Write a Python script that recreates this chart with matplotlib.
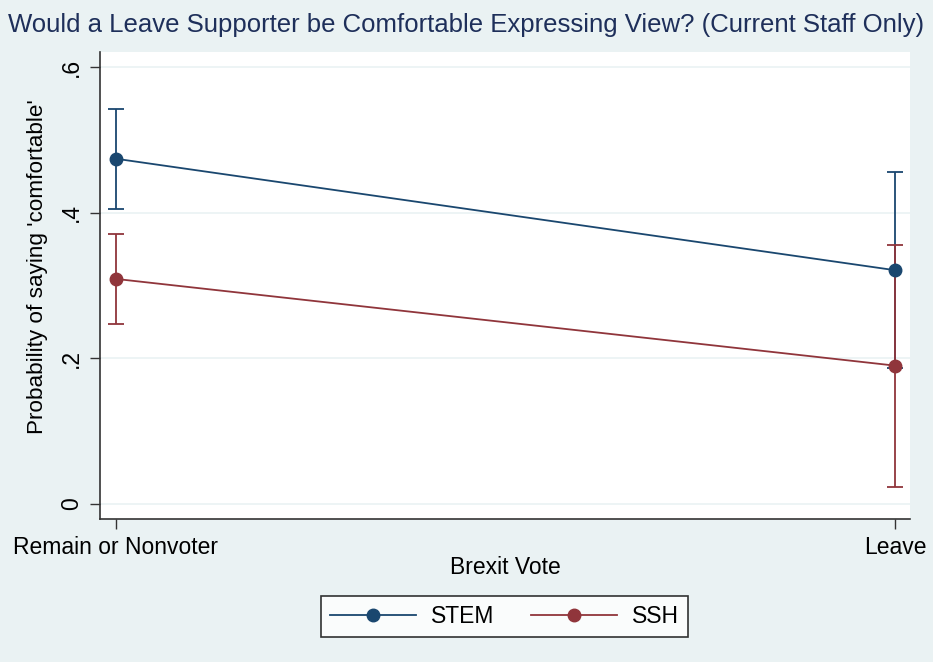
import numpy as np
import matplotlib.pyplot as plt
from matplotlib.lines import Line2D

# margins de predicción por voto y área
categorias = ['Remain or Nonvoter', 'Leave']
stem_p = [0.474, 0.321]
stem_lo = [0.405, 0.187]
stem_hi = [0.542, 0.456]
ssh_p = [0.309, 0.190]
ssh_lo = [0.247, 0.023]
ssh_hi = [0.371, 0.356]

fondo = '#EAF2F3'
azul = '#1A476F'
rojo = '#90353B'

plt.rcParams['font.family'] = ['Liberation Sans', 'DejaVu Sans']

fig = plt.figure(figsize=(9.33, 6.62), dpi=100, facecolor=fondo)
ax = fig.add_axes([0.1072, 0.216, 0.9753 - 0.1072, 0.9215 - 0.216])

x = np.arange(len(categorias))

handles = []
for p, lo, hi, col, nombre in [(stem_p, stem_lo, stem_hi, azul, 'STEM'),
                                (ssh_p, ssh_lo, ssh_hi, rojo, 'SSH')]:
    p = np.array(p)
    err = [p - np.array(lo), np.array(hi) - p]
    ax.errorbar(x, p, yerr=err, color=col, lw=1.3, marker='o', ms=9,
                capsize=5.5, capthick=1.3, elinewidth=1.3)
    handles.append(Line2D([], [], color=col, lw=1.3, marker='o', ms=9, label=nombre))

ax.set_xlim(-0.0205, 1.0193)
ax.set_ylim(-0.0206, 0.6206)
ax.set_xticks(x)
ax.set_xticklabels(categorias, fontsize=16.5)
ax.set_yticks([0, 0.2, 0.4, 0.6])
ax.set_yticklabels(['0', '.2', '.4', '.6'], fontsize=16.5, rotation=90, va='center')
ax.tick_params(axis='both', length=7, width=1, color='#333333', pad=5)

ax.grid(axis='y', color=fondo, lw=1.2)
ax.set_axisbelow(True)
for lado in ['top', 'right']:
    ax.spines[lado].set_visible(False)
for lado in ['left', 'bottom']:
    ax.spines[lado].set_color('#333333')
    ax.spines[lado].set_linewidth(1.2)

ax.set_xlabel('Brexit Vote', fontsize=16.5, labelpad=-2)
ax.set_ylabel("Probability of saying 'comfortable'", fontsize=16.2)
ax.yaxis.set_label_coords(-0.064, 0.54)

fig.text(0.5, 0.962, 'Would a Leave Supporter be Comfortable Expressing View? (Current Staff Only)',
         ha='center', va='center', fontsize=18.5, color='#1E2F5A')

leg = fig.legend(handles=handles, loc='center', bbox_to_anchor=(0.541, 0.069), ncol=2,
                 fontsize=16.5, frameon=True, fancybox=False, edgecolor='black',
                 handlelength=3.75, columnspacing=1.6, borderpad=0.4, handletextpad=0.65)
leg.get_frame().set_linewidth(1.2)
leg.get_frame().set_facecolor('white')

fig.savefig('out.png', dpi=100, facecolor=fondo)
